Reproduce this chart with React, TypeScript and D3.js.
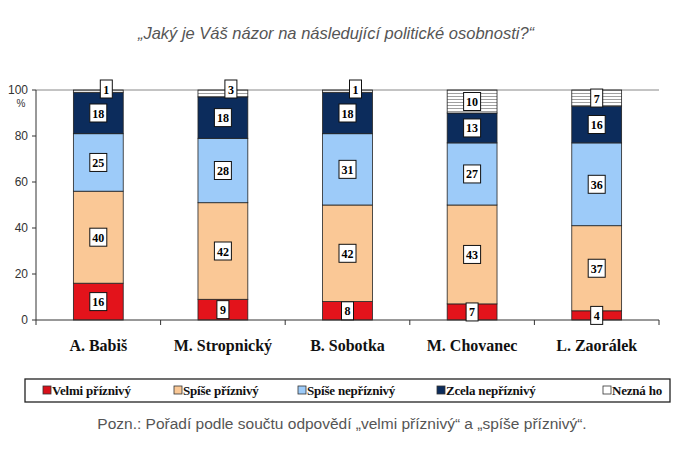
import React from "react";
import * as d3 from "d3";

const categories = ["A. Babiš", "M. Stropnický", "B. Sobotka", "M. Chovanec", "L. Zaorálek"];
const seriesNames = ["Velmi příznivý", "Spíše příznivý", "Spíše nepříznivý", "Zcela nepříznivý", "Nezná ho"];
const velmiPriznivy = [16, 9, 8, 7, 4];
const spisePriznivy = [40, 42, 42, 43, 37];
const spiseNepriznivy = [25, 28, 31, 27, 36];
const zcelaNepriznivy = [18, 18, 18, 13, 16];
const neznaHo = [1, 3, 1, 10, 7];
const yTicks = [0, 20, 40, 60, 80, 100];
const colors = ["#e3131b", "#fac896", "#9dcbf9", "#0c2c5c", "url(#stripes)"];
const legendColors = ["#d8101a", "#fac896", "#9dcbf9", "#0c2c5c", "#ffffff"];

const W = 688, H = 459;
const left = 36, right = 659, top = 90, bottom = 320;

export default function App() {
  const series = [velmiPriznivy, spisePriznivy, spiseNepriznivy, zcelaNepriznivy, neznaHo];
  const x = d3.scaleBand().domain(categories).range([left, right]).paddingInner(0.6).paddingOuter(0.3);
  const band = d3.scaleBand().domain(categories).range([left, right]);
  const y = d3.scaleLinear().domain([0, 100]).range([bottom, top]);
  const rows = categories.map((c, i) => {
    const o: any = { cat: c };
    seriesNames.forEach((s, j) => (o[s] = series[j][i]));
    return o;
  });
  const stacked = d3.stack().keys(seriesNames)(rows);
  const serif = "Liberation Serif, DejaVu Serif, serif";
  const sans = "Liberation Sans, Arial, sans-serif";
  const legendMarkX = [43, 174, 298, 437, 603];

  return (
    <svg width={W} height={H} style={{ position: "absolute", left: 0, top: 0, background: "#fff" }}>
      <defs>
        <pattern id="stripes" width="6" height="3" patternUnits="userSpaceOnUse">
          <rect width="6" height="3" fill="#ffffff" />
          <rect y="0" width="6" height="1" fill="#a0a0a0" />
        </pattern>
      </defs>
      <text x={336} y={39} textAnchor="middle" style={{ fontFamily: sans, fontStyle: "italic", fontSize: 16.5 }} fill="#555">
        „Jaký je Váš názor na následující politické osobnosti?“
      </text>
      <line x1={left} x2={right} y1={y(100)} y2={y(100)} stroke="#888" strokeWidth={1} />
      <line x1={left} x2={left} y1={y(100)} y2={bottom} stroke="#333" strokeWidth={1} />
      {yTicks.map((t) => (
        <g key={t}>
          <line x1={left - 4} x2={left} y1={y(t)} y2={y(t)} stroke="#333" />
          <text x={left - 8} y={y(t) + 4} textAnchor="end" style={{ fontFamily: sans, fontSize: 12 }} fill="#333">{t}</text>
        </g>
      ))}
      <text x={21} y={107} textAnchor="middle" style={{ fontFamily: sans, fontSize: 10 }} fill="#333">%</text>
      {stacked.map((s, j) => (
        <g key={s.key}>
          {s.map((d, i) => (
            <rect key={i} x={x(categories[i])} width={x.bandwidth()} y={y(d[1])} height={y(d[0]) - y(d[1])}
              fill={colors[j]} stroke="#222" strokeWidth={0.8} />
          ))}
        </g>
      ))}
      <line x1={left} x2={right} y1={bottom} y2={bottom} stroke="#333" />
      {categories.map((c, i) => (
        <line key={i} x1={band(c)! + band.bandwidth()} x2={band(c)! + band.bandwidth()} y1={bottom} y2={bottom + 5} stroke="#333" />
      ))}
      <line x1={left} x2={left} y1={bottom} y2={bottom + 5} stroke="#333" />
      {stacked.map((s, j) => (
        <g key={"l" + s.key}>
          {s.map((d, i) => {
            const v = d[1] - d[0];
            const small = j === 4 && v < 5;
            const cx = x(categories[i])! + x.bandwidth() / 2 + (small ? 8 : 0);
            const cy = small ? y(d[1]) - 1 : y((d[0] + d[1]) / 2);
            const w = v >= 10 ? 17 : 12;
            return (
              <g key={i}>
                <rect x={cx - w / 2} y={cy - 9} width={w} height={18} fill="#fff" stroke="#111" strokeWidth={1} />
                <text x={cx} y={cy + 4.5} textAnchor="middle" style={{ fontFamily: serif, fontWeight: "bold", fontSize: 12 }} fill="#000">{v}</text>
              </g>
            );
          })}
        </g>
      ))}
      {categories.map((c, i) => (
        <text key={c} x={band(c)! + band.bandwidth() / 2} y={351} textAnchor="middle" style={{ fontFamily: serif, fontWeight: "bold", fontSize: 16 }} fill="#111">{c}</text>
      ))}
      <rect x={25} y={379} width={645} height={23} fill="#fff" stroke="#222" strokeWidth={1.3} />
      {seriesNames.map((s, j) => (
        <g key={s}>
          <rect x={legendMarkX[j]} y={386} width={8} height={8} fill={legendColors[j]} stroke="#333" strokeWidth={0.8} />
          <text x={legendMarkX[j] + 9} y={395} style={{ fontFamily: serif, fontWeight: "bold", fontSize: 13, letterSpacing: -0.2 }} fill="#111">{s}</text>
        </g>
      ))}
      <text x={342} y={429} textAnchor="middle" style={{ fontFamily: sans, fontSize: 15.5 }} fill="#555">
        Pozn.: Pořadí podle součtu odpovědí „velmi příznivý“ a „spíše příznivý“.
      </text>
    </svg>
  );
}
